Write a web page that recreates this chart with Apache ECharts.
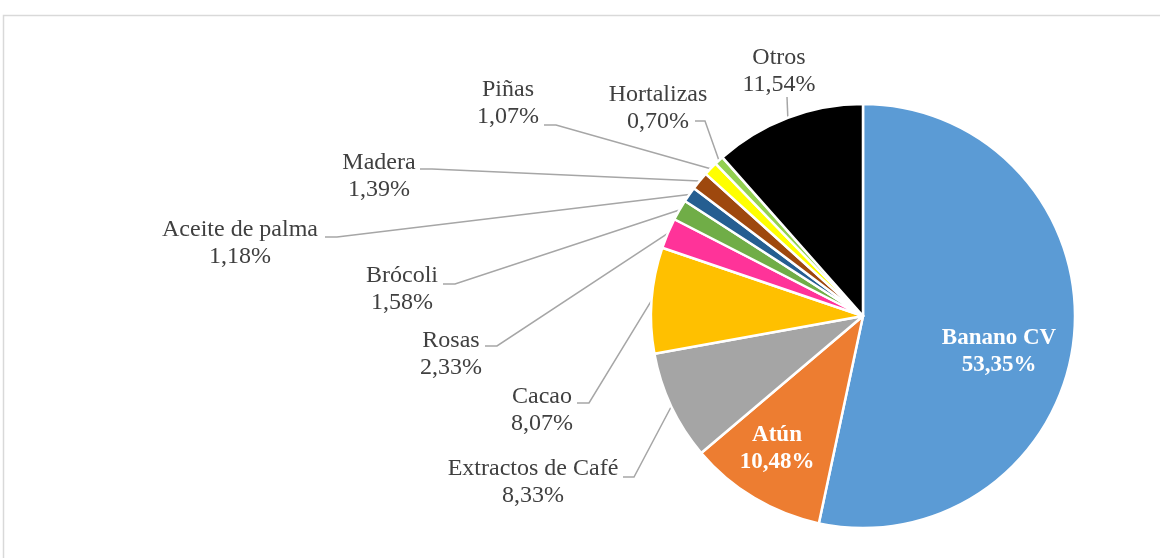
<!DOCTYPE html>
<html>
<head>
<meta charset="utf-8">
<script src="https://cdn.jsdelivr.net/npm/echarts@6/dist/echarts.min.js"></script>
<style>
html,body{margin:0;padding:0;background:#fff;}
#chart{width:1160px;height:558px;}
</style>
</head>
<body>
<div id="chart"></div>
<script>
// ---- data ----
const categories = ['Banano CV', 'Atún', 'Extractos de Café', 'Cacao', 'Rosas', 'Brócoli', 'Aceite de palma', 'Madera', 'Piñas', 'Hortalizas', 'Otros'];
const values = [53.35, 10.48, 8.33, 8.07, 2.33, 1.58, 1.18, 1.39, 1.07, 0.70, 11.54];
const insideLabels = ['Banano CV', 'Atún'];

// ---- styles / layout (not data) ----
const colors = ['#5B9BD5', '#ED7D31', '#A5A5A5', '#FFC000', '#FF3399', '#70AD47', '#255E91', '#9E480E', '#FFFF00', '#92D050', '#000000'];
// label block centers (x, y)
const labelPos = [[999, 352], [777, 449], [533, 482], [542, 410], [451, 354], [402, 289], [240, 243], [379, 176], [508, 103], [658, 108], [779, 71]];
// leader line start next to the label
const lineStart = [null, null, [623, 477], [577, 403], [485, 346], [443, 284], [325, 237], [420, 169], [544, 125], [695, 121], [787, 97]];
const elbowLen = [0, 0, 11, 12, 12, 12, 12, 12, 12, 10, 0];

const fmt = v => v.toFixed(2).replace('.', ',') + '%';

const chart = echarts.init(document.getElementById('chart'), null, {renderer: 'canvas'});
const data = categories.map((name, i) => {
  const inside = insideLabels.indexOf(name) >= 0;
  return {
    name: name,
    value: values[i],
    itemStyle: {color: colors[i]},
    label: inside ? {position: 'inside', color: '#ffffff', fontWeight: 'bold', fontSize: 23} : {position: 'outside'},
    labelLine: {show: !inside}
  };
});

chart.setOption({
  animation: false,
  backgroundColor: '#ffffff',
  graphic: [{
    type: 'rect',
    shape: {x: 3.5, y: 15.5, width: 1200, height: 600},
    style: {fill: 'none', stroke: '#D9D9D9', lineWidth: 1.5},
    silent: true
  }],
  series: [{
    type: 'pie',
    center: [863, 316],
    radius: 212,
    startAngle: 90,
    clockwise: true,
    avoidLabelOverlap: false,
    itemStyle: {borderColor: '#ffffff', borderWidth: 2.5},
    label: {
      show: true,
      fontFamily: '"Liberation Serif", "Times New Roman", serif',
      fontSize: 24,
      lineHeight: 27,
      color: '#404040',
      align: 'center',
      formatter: p => p.name + '\n' + fmt(p.value)
    },
    labelLine: {
      show: true,
      lineStyle: {color: '#A6A6A6', width: 1.5}
    },
    labelLayout: function (params) {
      const i = params.dataIndex;
      const pos = labelPos[i];
      const out = {x: pos[0], y: pos[1], align: 'center', verticalAlign: 'middle'};
      const s = lineStart[i];
      if (s && params.labelLinePoints) {
        const arc = params.labelLinePoints[0];
        out.labelLinePoints = [arc, [s[0] + elbowLen[i], s[1]], s];
      }
      return out;
    },
    data: data
  }]
});
</script>
</body>
</html>
